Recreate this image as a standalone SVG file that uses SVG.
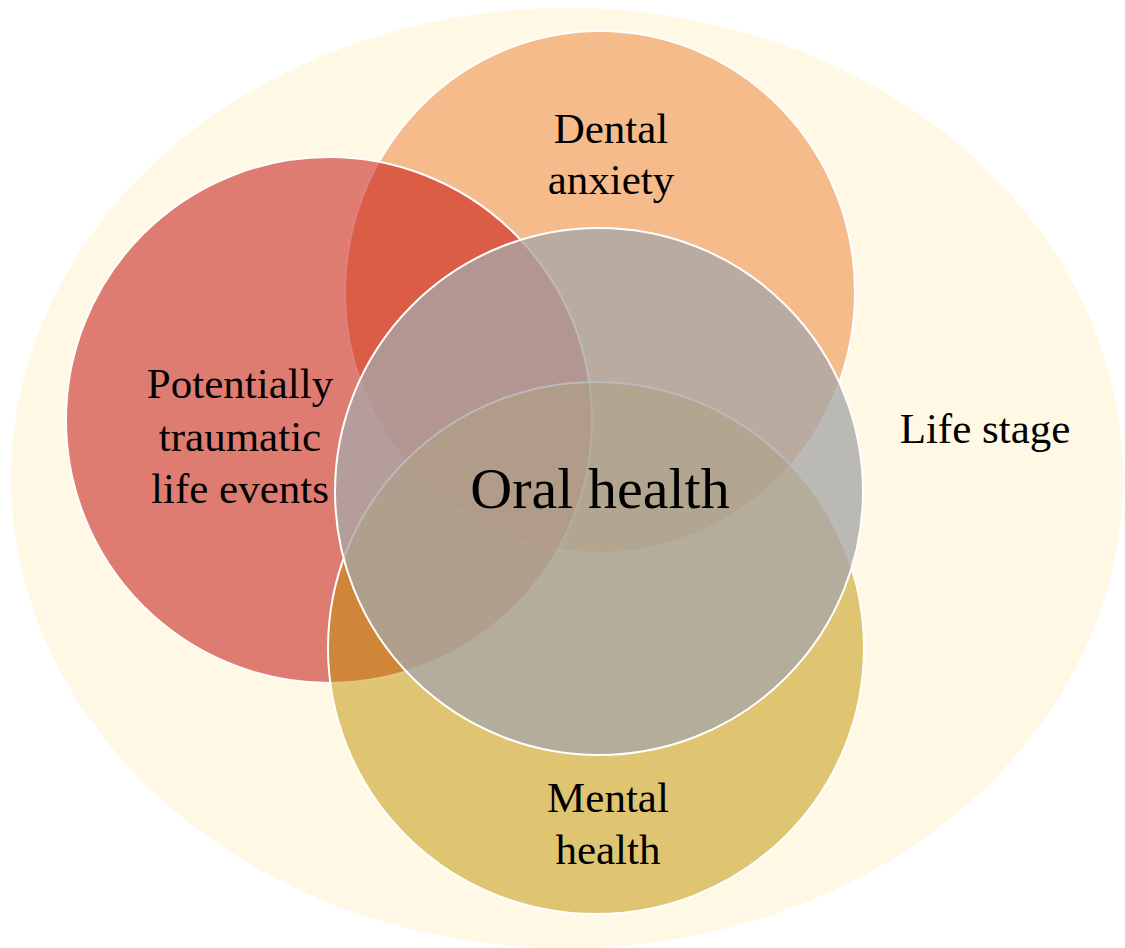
<svg xmlns="http://www.w3.org/2000/svg" width="1125" height="948" viewBox="0 0 1125 948">
<style>
.c{stroke:#ffffff;stroke-width:2}
.t{font-family:"Liberation Serif","Times New Roman",serif;font-size:43px;fill:#000;text-anchor:middle}
</style>
<rect width="1125" height="948" fill="#ffffff"/>
<g id="life-stage">
<ellipse cx="567" cy="478" rx="556" ry="470" fill="#FFF2CC" fill-opacity="0.5"/>
<text class="t" x="985" y="443">Life stage</text>
</g>
<g id="dental-anxiety">
<ellipse class="c" cx="600" cy="292" rx="255" ry="261" fill="#ED7D31" fill-opacity="0.5"/>
</g>
<g id="traumatic-events">
<ellipse class="c" cx="329" cy="420" rx="263" ry="263" fill="#C00000" fill-opacity="0.5"/>
</g>
<g id="mental-health">
<ellipse class="c" cx="596" cy="648" rx="268" ry="266" fill="#BF9000" fill-opacity="0.5"/>
</g>
<g id="oral-health">
<ellipse class="c" cx="599" cy="491.5" rx="264" ry="263.5" fill="#A8A6A6" fill-opacity="0.78"/>
</g>
<g id="labels">
<text class="t" x="611" y="143">Dental</text>
<text class="t" x="611" y="194">anxiety</text>
<text class="t" x="240" y="398">Potentially</text>
<text class="t" x="240" y="451">traumatic</text>
<text class="t" x="240" y="503">life events</text>
<text class="t" x="608" y="812">Mental</text>
<text class="t" x="608" y="864">health</text>
<text class="t" x="600" y="508" style="font-size:58px">Oral health</text>
</g>
</svg>
